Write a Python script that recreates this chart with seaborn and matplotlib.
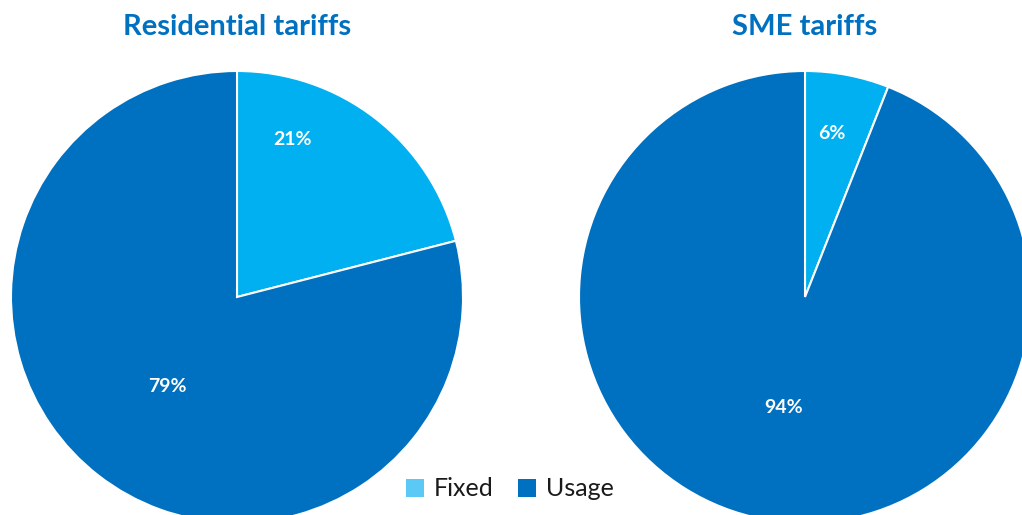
import matplotlib
matplotlib.use("Agg")
import matplotlib.pyplot as plt
from matplotlib.patches import Patch
import numpy as np
import seaborn as sns

# Tariff structure: share of bill from fixed vs usage charges
categories = ["Fixed", "Usage"]
residential = [21, 79]
sme = [6, 94]
titles = ["Residential tariffs", "SME tariffs"]

sns.set_theme(style="white")
plt.rcParams["font.family"] = ["Lato", "DejaVu Sans"]

pie_colors = ["#00B0F0", "#0070C0"]
legend_colors = ["#5BC8F5", "#0070C0"]
title_color = "#0070C0"

W, H = 1022, 515
fig = plt.figure(figsize=(W / 100, H / 100), dpi=100)
fig.patch.set_facecolor("white")

# pie centres and radius in pixels
radius_px = 226
centres = [(237, 297), (805, 297)]
# label placement (radial distance, angle in degrees) per slice
label_pos = [
    [(0.74, 70.5), (0.50, 232.0)],
    [(0.735, 80.6), (0.50, 259.0)],
]

for values, title, (cx, cy), lp in zip([residential, sme], titles, centres, label_pos):
    left = (cx - radius_px) / W
    bottom = (H - cy - radius_px) / H
    ax = fig.add_axes([left, bottom, 2 * radius_px / W, 2 * radius_px / H])
    ax.pie(values, colors=pie_colors, startangle=90, counterclock=False,
           radius=1.0, wedgeprops=dict(edgecolor="white", linewidth=1.5))
    ax.set_xlim(-1, 1)
    ax.set_ylim(-1, 1)
    ax.set_aspect("equal")
    ax.axis("off")
    for v, (r, a) in zip(values, lp):
        t = np.deg2rad(a)
        ax.text(r * np.cos(t), r * np.sin(t), f"{v}%", color="white",
                fontsize=14, fontweight="bold", ha="center", va="center")
    fig.text(cx / W, 1 - 27 / H, title, color=title_color, fontsize=21,
             fontweight="bold", ha="center", va="center")

handles = [Patch(facecolor=c, edgecolor="none") for c in legend_colors]
fig.legend(handles, categories, loc="center", bbox_to_anchor=(510 / W, 1 - 489 / H),
           ncol=2, frameon=False, fontsize=18, handlelength=0.7, handleheight=0.7,
           handletextpad=0.4, columnspacing=1.0, labelcolor="#1a1a1a")

fig.savefig("out.png", dpi=100, facecolor="white")
